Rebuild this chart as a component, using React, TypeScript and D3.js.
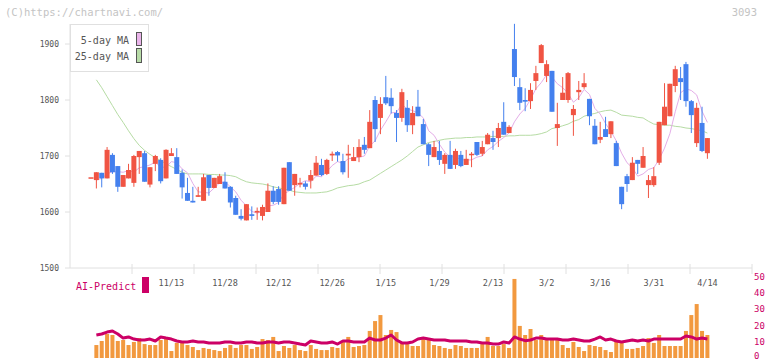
import React from "react";
import * as d3 from "d3";

// daily candles, index 0 is the lone dash at the far left
const opens = [
  1662, 1657, 1670, 1660, 1702, 1682, 1645, 1660, 1652, 1698, 1705, 1649, 1686, 1693, 1660, 1700, 1698, 1670, 1634, 1620,
  1627, 1620, 1666, 1643, 1650, 1654, 1645, 1625, 1593, 1585, 1596, 1599, 1593, 1600, 1638, 1641, 1614, 1689, 1648, 1649,
  1651, 1656, 1665, 1684, 1668, 1701, 1707, 1691, 1701, 1691, 1698, 1720, 1714, 1800, 1768, 1805, 1804, 1777, 1768, 1786,
  1755, 1788, 1757, 1721, 1698, 1709, 1686, 1702, 1684, 1702, 1684, 1702, 1725, 1704, 1721, 1732, 1732, 1761, 1741, 1891,
  1823, 1800, 1798, 1834, 1866, 1843, 1852, 1750, 1800, 1800, 1773, 1814, 1823, 1802, 1754, 1729, 1748, 1739, 1723, 1645,
  1664, 1657, 1693, 1679, 1648, 1648, 1688, 1755, 1771, 1825, 1839, 1864, 1798, 1723, 1759, 1705,
];
const highs = [
  1662, 1671, 1670, 1716, 1705, 1682, 1666, 1686, 1702, 1709, 1709, 1680, 1702, 1696, 1712, 1714, 1714, 1676, 1661, 1645,
  1645, 1668, 1666, 1661, 1668, 1671, 1646, 1629, 1605, 1614, 1610, 1608, 1613, 1651, 1646, 1646, 1679, 1689, 1668, 1661,
  1655, 1675, 1700, 1695, 1695, 1708, 1709, 1704, 1720, 1716, 1730, 1734, 1782, 1807, 1805, 1843, 1821, 1782, 1820, 1800,
  1789, 1818, 1766, 1723, 1727, 1727, 1705, 1727, 1713, 1709, 1711, 1707, 1725, 1727, 1741, 1745, 1759, 1796, 1755, 1936,
  1839, 1821, 1830, 1861, 1900, 1871, 1852, 1795, 1841, 1850, 1791, 1834, 1848, 1802, 1766, 1761, 1770, 1762, 1727, 1645,
  1668, 1698, 1693, 1716, 1666, 1680, 1761, 1830, 1829, 1861, 1859, 1868, 1800, 1795, 1788, 1732,
];
const lows = [
  1662, 1642, 1644, 1660, 1668, 1636, 1645, 1660, 1645, 1668, 1654, 1644, 1673, 1651, 1660, 1700, 1668, 1624, 1620, 1617,
  1627, 1620, 1629, 1643, 1650, 1642, 1608, 1595, 1585, 1585, 1586, 1586, 1585, 1600, 1614, 1613, 1614, 1638, 1629, 1644,
  1640, 1642, 1665, 1664, 1666, 1691, 1690, 1667, 1661, 1691, 1689, 1704, 1714, 1725, 1739, 1791, 1776, 1725, 1761, 1743,
  1739, 1771, 1721, 1682, 1698, 1684, 1668, 1677, 1677, 1680, 1684, 1680, 1700, 1700, 1721, 1711, 1716, 1738, 1741, 1825,
  1782, 1780, 1784, 1818, 1866, 1832, 1779, 1718, 1800, 1795, 1736, 1800, 1820, 1755, 1721, 1723, 1734, 1732, 1682, 1605,
  1636, 1657, 1668, 1679, 1625, 1645, 1684, 1755, 1771, 1814, 1800, 1788, 1741, 1716, 1707, 1695,
];
const closes = [
  1662, 1671, 1660, 1711, 1671, 1645, 1666, 1675, 1700, 1709, 1654, 1680, 1700, 1655, 1711, 1705, 1668, 1644, 1620, 1617,
  1630, 1662, 1643, 1661, 1664, 1642, 1617, 1595, 1588, 1614, 1593, 1602, 1609, 1638, 1618, 1618, 1679, 1638, 1668, 1652,
  1645, 1666, 1688, 1666, 1693, 1704, 1701, 1671, 1704, 1698, 1716, 1711, 1761, 1748, 1793, 1794, 1789, 1768, 1814, 1755,
  1777, 1771, 1721, 1702, 1716, 1693, 1702, 1677, 1709, 1682, 1695, 1704, 1702, 1716, 1738, 1725, 1750, 1738, 1752, 1841,
  1795, 1797, 1818, 1848, 1898, 1864, 1779, 1757, 1813, 1848, 1784, 1818, 1830, 1771, 1721, 1734, 1734, 1762, 1682, 1614,
  1650, 1688, 1686, 1700, 1657, 1664, 1761, 1788, 1829, 1855, 1832, 1798, 1773, 1786, 1709, 1732,
];
const ma5 = [
  null, 1657, 1660, 1668, 1672, 1672, 1671, 1674, 1671, 1679, 1681, 1684, 1689, 1680, 1680, 1690, 1688, 1677, 1670, 1651,
  1636, 1635, 1634, 1643, 1652, 1654, 1645, 1636, 1621, 1611, 1601, 1598, 1601, 1611, 1612, 1617, 1632, 1638, 1644, 1651,
  1656, 1654, 1664, 1663, 1672, 1683, 1690, 1687, 1695, 1696, 1698, 1700, 1718, 1727, 1746, 1761, 1777, 1778, 1792, 1784,
  1781, 1777, 1768, 1745, 1737, 1721, 1707, 1698, 1699, 1693, 1693, 1693, 1698, 1700, 1711, 1717, 1726, 1733, 1741, 1761,
  1775, 1785, 1801, 1820, 1831, 1845, 1841, 1829, 1822, 1812, 1796, 1804, 1819, 1810, 1785, 1775, 1758, 1744, 1727, 1705,
  1688, 1679, 1664, 1668, 1676, 1679, 1694, 1714, 1740, 1779, 1813, 1820, 1817, 1809, 1780, 1760,
];
const ma25 = [
  null, 1836, 1822, 1806, 1790, 1774, 1760, 1745, 1731, 1719, 1710, 1703, 1697, 1692, 1686, 1681, 1676, 1671, 1668, 1668,
  1668, 1668, 1667, 1667, 1666, 1666, 1665, 1663, 1658, 1654, 1652, 1651, 1650, 1648, 1645, 1643, 1641, 1639, 1636, 1635,
  1634, 1634, 1634, 1635, 1636, 1639, 1643, 1645, 1647, 1648, 1650, 1654, 1657, 1663, 1669, 1675, 1681, 1687, 1693, 1700,
  1708, 1716, 1720, 1724, 1726, 1728, 1730, 1731, 1732, 1732, 1733, 1733, 1734, 1734, 1734, 1735, 1735, 1735, 1736, 1736,
  1737, 1737, 1737, 1738, 1740, 1743, 1749, 1751, 1754, 1757, 1762, 1765, 1771, 1774, 1776, 1779, 1781, 1782, 1778, 1773,
  1772, 1771, 1769, 1768, 1762, 1757, 1756, 1755, 1755, 1753, 1752, 1750, 1749, 1747, 1745, 1741,
];
const volumes = [
  0, 8.0, 10.5, 14.8, 14.2, 10.5, 11.1, 8.0, 9.9, 12.3, 8.6, 8.0, 8.0, 11.1, 13.0, 4.3, 9.3, 9.3, 8.0, 6.8,
  4.9, 6.2, 5.6, 4.9, 4.3, 6.2, 8.0, 6.2, 8.0, 8.0, 5.6, 6.8, 11.7, 11.1, 13.0, 4.3, 7.4, 6.2, 8.0, 4.9,
  4.3, 8.0, 5.6, 4.9, 4.9, 6.8, 6.2, 10.5, 13.0, 6.8, 7.4, 8.0, 16.7, 22.8, 26.5, 14.2, 17.3, 16.0, 9.3, 8.6,
  7.4, 7.4, 12.3, 11.1, 8.0, 7.4, 6.2, 5.6, 8.0, 7.4, 6.2, 6.2, 6.2, 8.6, 13.0, 7.4, 7.4, 8.6, 6.2, 48.8,
  19.8, 14.2, 17.9, 11.1, 14.2, 11.1, 11.1, 11.1, 8.0, 6.2, 9.9, 6.8, 4.3, 8.0, 7.4, 6.8, 4.9, 3.7, 9.9, 9.9,
  5.6, 5.6, 6.2, 7.4, 12.3, 9.3, 14.2, 7.4, 7.4, 7.4, 7.4, 16.7, 26.5, 33.3, 16.7, 14.2,
];
const aiPredict = [
  null, 14.2, 14.8, 16.0, 16.7, 14.8, 12.3, 13.0, 11.7, 11.1, 11.1, 11.7, 10.5, 13.0, 12.3, 11.7, 10.5, 9.9, 9.9, 10.5,
  9.9, 9.9, 9.3, 9.3, 9.3, 9.9, 9.9, 9.3, 9.3, 9.9, 9.9, 9.3, 9.3, 9.9, 9.9, 9.3, 9.9, 9.9, 9.3, 8.6,
  8.0, 10.5, 9.9, 9.3, 9.3, 9.9, 8.6, 10.5, 10.5, 9.9, 9.9, 9.9, 12.3, 11.1, 11.1, 12.3, 14.2, 11.1, 9.3, 9.3,
  9.9, 11.7, 12.3, 11.7, 11.1, 11.1, 11.1, 10.5, 10.5, 10.5, 10.5, 9.9, 9.9, 9.3, 9.3, 8.6, 8.6, 9.9, 9.3, 13.0,
  11.7, 10.7, 11.1, 12.3, 12.3, 11.7, 11.7, 11.7, 11.1, 11.1, 11.7, 11.1, 10.5, 10.5, 11.7, 13.0, 11.1, 11.7, 10.5, 9.9,
  10.5, 11.1, 10.5, 11.1, 10.5, 11.7, 11.7, 11.7, 11.7, 11.7, 11.7, 13.6, 13.0, 11.7, 12.3, 11.7,
];
const dateLabels = ["11/13", "11/28", "12/12", "12/26", "1/15", "1/29", "2/13", "3/2", "3/16", "3/31", "4/14"];
const dateLabelIdx = [15, 25, 35, 45, 55, 65, 75, 85, 95, 105, 115];
const priceTicks = [1500, 1600, 1700, 1800, 1900];
const volTicks = [0, 10, 20, 30, 40, 50];

const UP = "#f05443";
const DOWN = "#4480ee";
const MONO = "'DejaVu Sans Mono', 'Liberation Mono', monospace";

export default function App() {
  const n = closes.length;
  const x = d3.scaleLinear().domain([0, n - 1]).range([91, 707.4]);
  const y = d3.scaleLinear().domain([1500, 1900]).range([268, 44]);
  const yv = d3.scaleLinear().domain([0, 50]).range([358, 277]);
  const grid = d3.scaleLinear().domain([0, 11]).range([70, 752]);

  const idx = d3.range(n);
  const maLine = (vals: (number | null)[]) =>
    d3
      .line<number>()
      .defined((i) => vals[i] != null)
      .x((i) => x(i))
      .y((i) => y(vals[i] as number))(idx) || "";
  const aiLine =
    d3
      .line<number>()
      .defined((i) => aiPredict[i] != null)
      .x((i) => x(i))
      .y((i) => yv(aiPredict[i] as number))(idx) || "";

  const bodyW = 5;
  const volW = 4;

  return (
    <svg
      width={772}
      height={361}
      style={{ position: "absolute", left: 0, top: 0, background: "#fff" }}
      fontFamily={MONO}
    >
      <text x={5} y={12} fontSize={10.5} fill="#c4c4c4" dominantBaseline="central">
        (C)https://chartnavi.com/
      </text>
      <text x={757} y={12} fontSize={10.5} fill="#c4c4c4" textAnchor="end" dominantBaseline="central">
        3093
      </text>

      {/* axes */}
      <line x1={70} x2={70} y1={24} y2={268} stroke="#e0e0e0" />
      <line x1={70} x2={752} y1={268} y2={268} stroke="#e0e0e0" />
      {d3.range(1, 12).map((k) => (
        <line key={k} x1={grid(k)} x2={grid(k)} y1={264} y2={274} stroke="#e0e0e0" />
      ))}
      {priceTicks.map((p) => (
        <g key={p}>
          <line x1={65} x2={70} y1={y(p)} y2={y(p)} stroke="#e0e0e0" />
          <text x={59} y={y(p)} fontSize={8} fill="#555" textAnchor="end" dominantBaseline="central">
            {p}
          </text>
        </g>
      ))}

      {/* moving averages */}
      <path d={maLine(ma25)} fill="none" stroke="#b6dca4" strokeWidth={1} />
      <path d={maLine(ma5)} fill="none" stroke="#e4aee8" strokeWidth={1} />

      {/* candles */}
      {idx.map((i) => {
        const up = closes[i] >= opens[i];
        const c = up ? UP : DOWN;
        const top = y(Math.max(opens[i], closes[i]));
        const bot = y(Math.min(opens[i], closes[i]));
        return (
          <g key={i}>
            {highs[i] !== lows[i] && (
              <line x1={x(i)} x2={x(i)} y1={y(highs[i])} y2={y(lows[i])} stroke={c} strokeWidth={1} />
            )}
            <rect x={x(i) - bodyW / 2} y={top} width={bodyW} height={Math.max(1.5, bot - top)} fill={c} />
          </g>
        );
      })}

      {/* legend */}
      <rect x={70.5} y={24.5} width={78} height={47} fill="#fff" stroke="#e0e0e0" />
      <text x={129} y={40} fontSize={10} fill="#555" textAnchor="end" dominantBaseline="central">
        5-day MA
      </text>
      <text x={129} y={56} fontSize={10} fill="#555" textAnchor="end" dominantBaseline="central">
        25-day MA
      </text>
      <rect x={136.5} y={32.5} width={5} height={13} fill="#eab4ea" stroke="#555" />
      <rect x={136.5} y={48.5} width={5} height={14} fill="#b8dca8" stroke="#555" />

      {/* date labels */}
      {dateLabels.map((d, k) => (
        <text key={d} x={x(dateLabelIdx[k])} y={283} fontSize={8.5} fill="#555" textAnchor="middle" dominantBaseline="central">
          {d}
        </text>
      ))}

      {/* volume panel */}
      <text x={76} y={286} fontSize={10} fill="#cc0066" dominantBaseline="central">
        AI-Predict
      </text>
      <rect x={142} y={277} width={7} height={16} fill="#cc0066" />
      {volTicks.map((v) => (
        <text key={v} x={754} y={Math.min(yv(v), 355.5)} fontSize={9} fill="#cc0066" dominantBaseline="central">
          {v}
        </text>
      ))}
      {idx.map((i) =>
        volumes[i] > 0 ? (
          <rect
            key={i}
            x={x(i) - volW / 2}
            y={yv(volumes[i])}
            width={volW}
            height={yv(0) - yv(volumes[i])}
            fill="#f2993f"
          />
        ) : null
      )}
      <path d={aiLine} fill="none" stroke="#cc0066" strokeWidth={3} strokeLinejoin="round" />
    </svg>
  );
}
